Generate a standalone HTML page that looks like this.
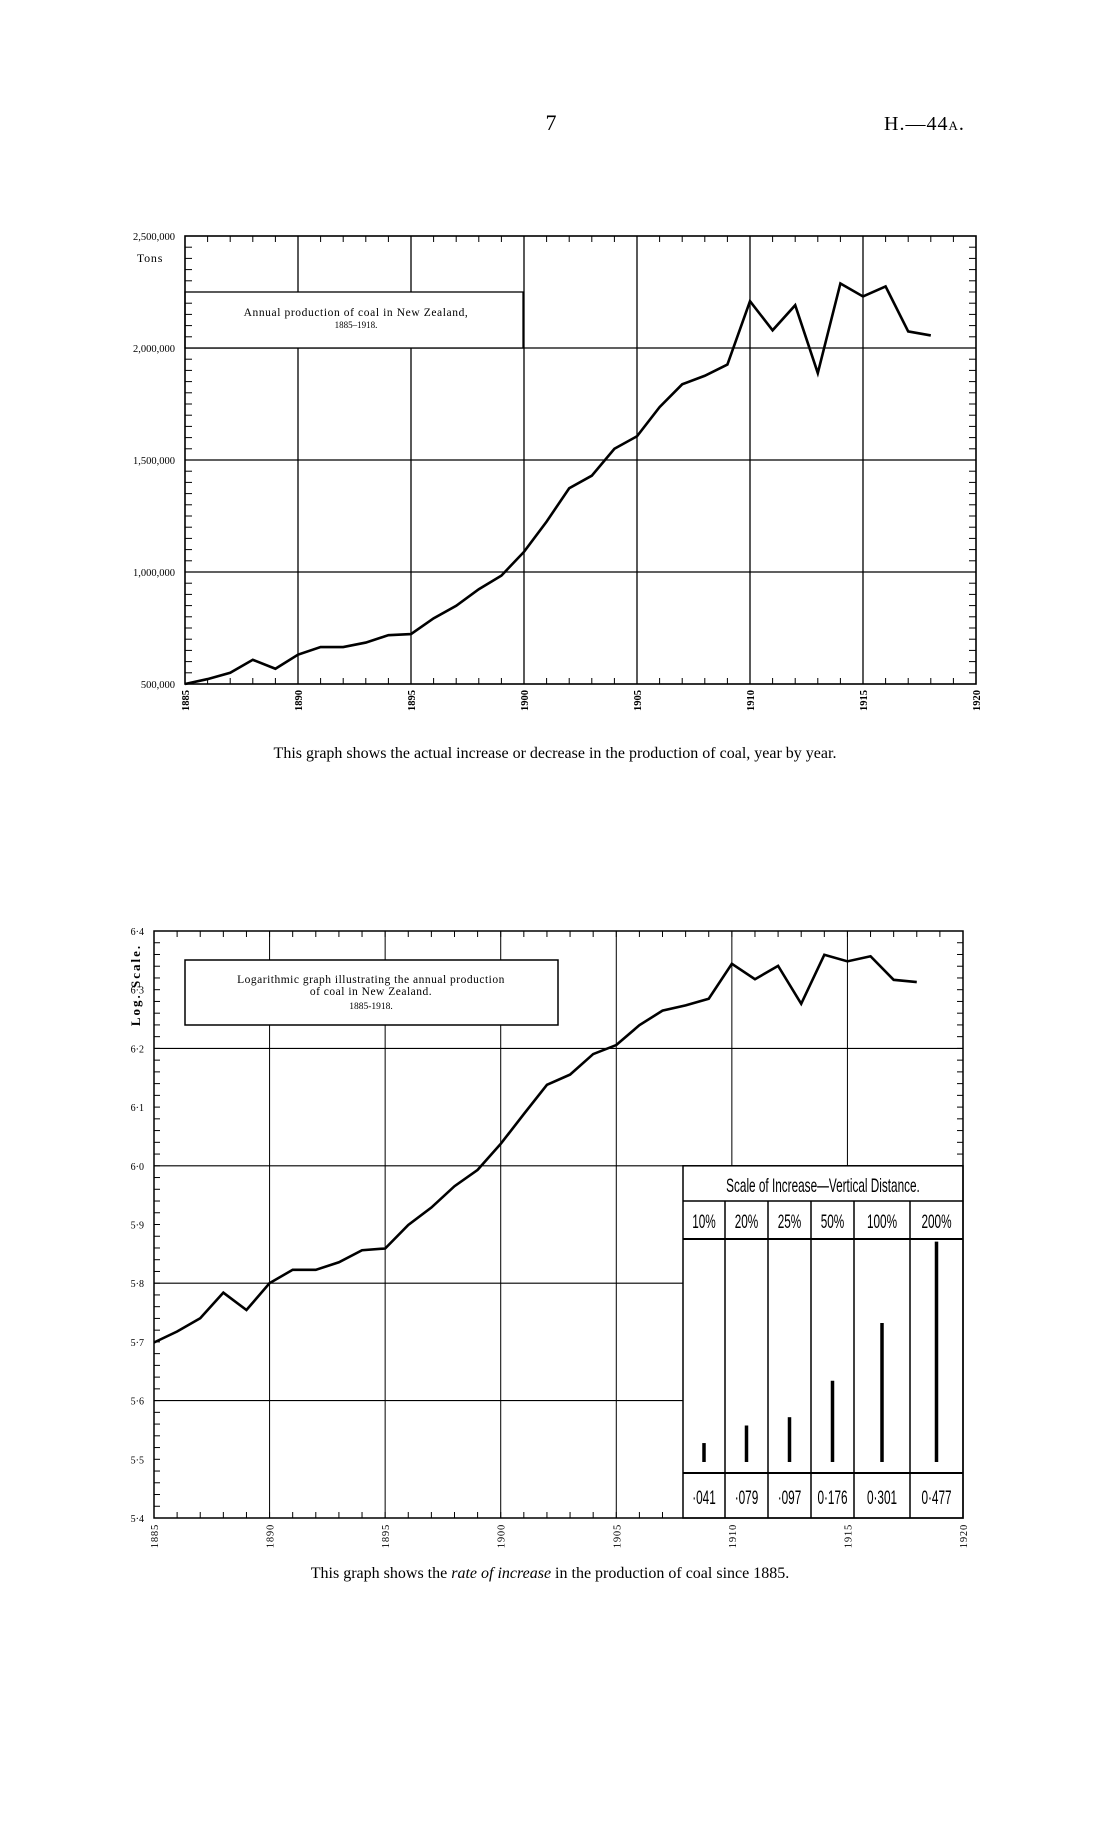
<!DOCTYPE html>
<html><head><meta charset="utf-8"><style>
html,body{margin:0;padding:0;background:#fff}
svg{display:block}
text{font-family:"Liberation Serif",serif;fill:#000}
.n{font-family:"Liberation Sans Narrow","Liberation Sans",sans-serif}
</style></head><body>
<svg id="s" width="1114" height="1829" viewBox="0 0 1114 1829" xmlns="http://www.w3.org/2000/svg">
<text x="551" y="130" font-size="22" text-anchor="middle">7</text>
<text x="884" y="130" font-size="20" letter-spacing="1">H.—44<tspan font-size="13">A</tspan>.</text>
<text x="555" y="758" font-size="16" text-anchor="middle">This graph shows the actual increase or decrease in the production of coal, year by year.</text>
<text x="550" y="1578" font-size="16" text-anchor="middle">This graph shows the <tspan font-style="italic">rate of increase</tspan> in the production of coal since 1885.</text>
</svg>
<script>
var s=document.getElementById('s'),NS='http://www.w3.org/2000/svg';
function el(t,a,txt){var e=document.createElementNS(NS,t);for(var k in a)e.setAttribute(k,a[k]);if(txt!=null)e.textContent=txt;s.appendChild(e);return e;}
function ln(x1,y1,x2,y2,w){el('line',{x1:x1,y1:y1,x2:x2,y2:y2,stroke:'#000','stroke-width':w||1});}
var data=[500,522,550,608,568,631,665,665,685,718,723,793,849,923,984,1090,1225,1374,1430,1550,1606,1736,1838,1876,1926,2209,2079,2191,1888,2288,2230,2275,2074,2056];
var L=185,R=976,T=236,B=684;
function X1(y){return L+(y-1885)*(R-L)/35}
function Y1(v){return B-(v-500)*(B-T)/2000}
[1890,1895,1900,1905,1910,1915].forEach(function(y){var x=X1(y);ln(x,(x<=523?348:T),x,B,1.3);if(x<=523)ln(x,T,x,292,1.3);});
[2000,1500,1000].forEach(function(v){ln(L,Y1(v),R,Y1(v),1.3)});
el('rect',{x:L,y:292,width:523-L,height:56,fill:'#fff',stroke:'#000','stroke-width':1.3});
el('text',{x:356,y:316,'font-size':11.5,'text-anchor':'middle','letter-spacing':0.6},'Annual production of coal in New Zealand,');
el('text',{x:356,y:328,'font-size':9,'text-anchor':'middle'},'1885–1918.');
for(var y=1885;y<=1920;y++){var x=X1(y);ln(x,T,x,T+6,1);ln(x,B,x,B-6,1);}
for(var v=500;v<=2500;v+=50){var yy=Y1(v);ln(L,yy,L+7,yy,1);ln(R,yy,R-7,yy,1);}
el('rect',{x:L,y:T,width:R-L,height:B-T,fill:'none',stroke:'#000','stroke-width':1.6});
var lab={2500:'2,500,000',2000:'2,000,000',1500:'1,500,000',1000:'1,000,000',500:'500,000'};
for(var k in lab)el('text',{x:175,y:Y1(+k)+4,'font-size':10.5,'text-anchor':'end'},lab[k]);
el('text',{x:150,y:262,'font-size':12,'text-anchor':'middle','letter-spacing':0.8},'Tons');
for(var y=1885;y<=1920;y+=5){var x=X1(y);el('text',{x:0,y:0,'font-size':10.5,'font-weight':'bold','text-anchor':'end',transform:'translate('+(x+4)+','+(B+6)+') rotate(-90)'},String(y));}
el('polyline',{points:data.map(function(v,i){return X1(1885+i)+','+Y1(v)}).join(' '),fill:'none',stroke:'#000','stroke-width':2.6,'stroke-linejoin':'miter'});
var L2=154,R2=963,T2=931,B2=1518;
function X2(y){return L2+(y-1885)*(R2-L2)/35}
function Y2(v){return B2-(v-5.4)*(B2-T2)}
var TL=683,TT=Y2(6.0);
[1890,1895,1900,1905,1910,1915].forEach(function(y){var x=X2(y);ln(x,T2,x,(x<TL?B2:TT),1);});
ln(L2,Y2(6.2),R2,Y2(6.2),1.1);ln(L2,Y2(6.0),R2,Y2(6.0),1.1);
ln(L2,Y2(5.8),TL,Y2(5.8),1.1);ln(L2,Y2(5.6),TL,Y2(5.6),1.1);
el('rect',{x:185,y:960,width:373,height:65,fill:'#fff',stroke:'#000','stroke-width':1.5});
el('text',{x:371,y:983,'font-size':11.5,'text-anchor':'middle','letter-spacing':0.5},'Logarithmic graph illustrating the annual production');
el('text',{x:371,y:995,'font-size':11.5,'text-anchor':'middle','letter-spacing':0.5},'of coal in New Zealand.');
el('text',{x:371,y:1009,'font-size':9.5,'text-anchor':'middle'},'1885-1918.');
for(var y=1885;y<=1920;y++){var x=X2(y);ln(x,T2,x,T2+6,1);if(x<TL)ln(x,B2,x,B2-6,1);}
for(var v=5.4;v<=6.401;v+=0.02){var yy=Y2(v);ln(L2,yy,L2+6,yy,1);if(yy<TT)ln(R2,yy,R2-6,yy,1);}
el('rect',{x:TL,y:TT,width:R2-TL,height:B2-TT,fill:'#fff',stroke:'#000','stroke-width':1.5});
var hy=1201,hb=1239,fy=1473;
ln(TL,hy,R2,hy,1.5);ln(TL,hb,R2,hb,2);ln(TL,fy,R2,fy,2);
var cols=[TL,725,768,811,854,910,R2];
for(var i=1;i<6;i++)ln(cols[i],hy,cols[i],B2,1.5);
var mid=(TL+R2)/2;
el('text',{x:0,y:0,'font-size':19,'text-anchor':'middle','class':'n',transform:'translate('+mid+',1192) scale(0.62,1)'},'Scale of Increase—Vertical Distance.');
var hd=['10%','20%','25%','50%','100%','200%'],ft=['·041','·079','·097','0·176','0·301','0·477'],vals=[0.041,0.079,0.097,0.176,0.301,0.477];
for(var i=0;i<6;i++){var cx=(cols[i]+cols[i+1])/2;
el('text',{x:0,y:0,'font-size':19,'text-anchor':'middle','class':'n',transform:'translate('+cx+',1228) scale(0.62,1)'},hd[i]);
el('text',{x:0,y:0,'font-size':19,'text-anchor':'middle','class':'n',transform:'translate('+cx+',1504) scale(0.62,1)'},ft[i]);
var h=vals[i]*462;ln(cx,1462,cx,1462-h,3.5);}
el('rect',{x:L2,y:T2,width:R2-L2,height:B2-T2,fill:'none',stroke:'#000','stroke-width':1.5});
for(var i=0;i<=10;i++){var v=5.4+i*0.1;el('text',{x:144,y:Y2(v)+4,'font-size':10,'text-anchor':'end'},v.toFixed(1).replace('.','·'));}
el('text',{x:0,y:0,'font-size':13,'font-weight':'bold','text-anchor':'middle','letter-spacing':2,transform:'translate(140,985) rotate(-90)'},'Log.  Scale.');
for(var y=1885;y<=1920;y+=5){var x=X2(y);el('text',{x:0,y:0,'font-size':10.5,'text-anchor':'end','letter-spacing':0.8,transform:'translate('+(x+4)+','+(B2+6)+') rotate(-90)'},String(y));}
el('polyline',{points:data.map(function(v,i){return X2(1885+i)+','+Y2(Math.log10(v*1000))}).join(' '),fill:'none',stroke:'#000','stroke-width':2.6});
</script>
</body></html>
